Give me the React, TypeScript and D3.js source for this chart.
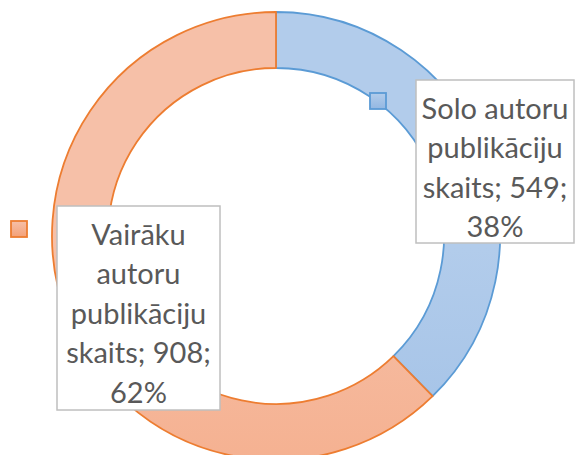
import React from "react";
import * as d3 from "d3";

const categories = ["Solo autoru publikāciju skaits", "Vairāku autoru publikāciju skaits"];
const values = [549, 908];
const percents = ["38%", "62%"];
const labelLines = [
  ["Solo autoru", "publikāciju", "skaits; 549;", "38%"],
  ["Vairāku", "autoru", "publikāciju", "skaits; 908;", "62%"],
];

const W = 580, H = 455;
const cx = 276, cy = 236, rOuter = 224, rInner = 168;

const strokes = ["#5b9bd5", "#ed7d31"];
const gradTop = ["#b2cceb", "#f6c0a8"];
const gradBot = ["#93b7e2", "#f4a178"];

const boxes = [
  { x: 416, y: 80, w: 158, h: 163, keyX: 370, keyY: 93, firstY: 107 },
  { x: 57, y: 206, w: 163, h: 204, keyX: 11, keyY: 221, firstY: 233 },
];
const lineH = 39.5;

export default function App() {
  const pie = d3.pie<number>().sort(null).value((d) => d)(values);
  const arc = d3.arc<d3.PieArcDatum<number>>().innerRadius(rInner).outerRadius(rOuter);
  const order = [0, 1];
  return (
    <svg width={W} height={H} style={{ display: "block", position: "absolute", left: 0, top: 0 }}>
      <defs>
        {values.map((_, i) => (
          <linearGradient key={i} id={`g${i}`} gradientUnits="userSpaceOnUse" x1="0" y1={cy - rOuter} x2="0" y2={cy + rOuter}>
            <stop offset="0" stopColor={gradTop[i]} />
            <stop offset="1" stopColor={gradBot[i]} />
          </linearGradient>
        ))}
        {values.map((_, i) => (
          <linearGradient key={"k" + i} id={`k${i}`} x1="0" y1="0" x2="0" y2="1">
            <stop offset="0" stopColor={gradTop[i]} />
            <stop offset="1" stopColor={gradBot[i]} />
          </linearGradient>
        ))}
      </defs>
      <g transform={`translate(${cx},${cy})`}>
        {order.map((i) => (
          <path key={i} d={arc(pie[i]) || ""} fill={`url(#g${i})`} stroke={strokes[i]} strokeWidth={1.8} strokeLinejoin="round" />
        ))}
      </g>
      {boxes.map((b, i) => (
        <g key={i}>
          <rect x={b.keyX} y={b.keyY} width={16} height={16} fill={`url(#k${i})`} stroke={strokes[i]} strokeWidth={1.8} />
          <rect x={b.x} y={b.y} width={b.w} height={b.h} fill="#ffffff" stroke="#bfbfbf" strokeWidth={1.5} />
          {labelLines[i].map((t, j) => (
            <text
              key={j}
              x={b.x + b.w / 2}
              y={b.firstY + j * lineH}
              textAnchor="middle"
              dominantBaseline="central"
              fontFamily="Lato, 'Open Sans', sans-serif"
              fontSize={29}
              fill="#595959"
            >
              {t}
            </text>
          ))}
        </g>
      ))}
    </svg>
  );
}
